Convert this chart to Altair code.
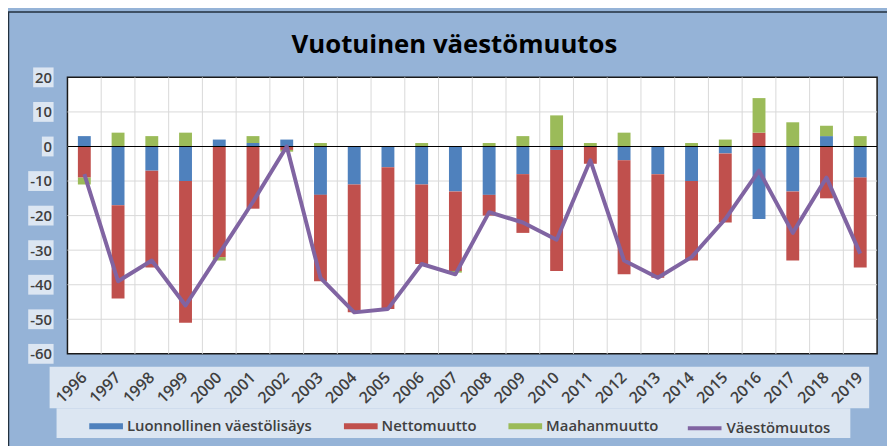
import altair as alt
import pandas as pd

years = list(range(1996, 2020))
luonnollinen = [3, -17, -7, -10, 2, 1, 2, -14, -11, -6, -11, -13, -14, -8, -1, 0, -4, -8, -10, -2, -21, -13, 3, -9]
nettomuutto = [-9, -27, -28, -41, -32, -18, -1, -25, -37, -41, -23, -23, -6, -17, -35, -5, -33, -30, -23, -20, 4, -20, -15, -26]
maahanmuutto = [-2, 4, 3, 4, -1, 2, -0.5, 1, 0, 0, 1, -0.5, 1, 3, 9, 1, 4, 0, 1, 2, 10, 7, 3, 3]
vaestomuutos = [-8, -39, -33, -46, -31, -16, 0, -38, -48, -47, -34, -37, -19, -22, -27, -4, -33, -38, -32, -21, -7, -25, -9, -31]
series = ["Luonnollinen väestölisäys", "Nettomuutto", "Maahanmuutto", "Väestömuutos"]
colors = ["#4F81BD", "#C0504D", "#9BBB59", "#8064A2"]
y_ticks = [-60, -50, -40, -30, -20, -10, 0, 10, 20]
title_text = "Vuotuinen väestömuutos"

W, H = 817, 279
FONT = "Open Sans"
LABEL = "#404040"
LIGHT = "#DCE6F2"
BLUE_BG = "#95B3D7"
GRID = "#D9D9D9"
WEIGHT = 600

rows = []
for i, y in enumerate(years):
    for k, (name, vals) in enumerate(zip(series[:3], [luonnollinen, nettomuutto, maahanmuutto])):
        rows.append({"year": y, "series": name, "value": vals[i], "k": k})
bars_df = pd.DataFrame(rows)
line_df = pd.DataFrame({"year": years, "v": vaestomuutos, "s": series[3]})
ticks_df = pd.DataFrame({"t": y_ticks})
inner_ticks_df = pd.DataFrame({"t": y_ticks[1:-1]})
zero_df = pd.DataFrame({"t": [0]})
grid_years_df = pd.DataFrame({"year": years[1:]})
one = pd.DataFrame({"a": [0]})

xscale = alt.Scale(domain=years, paddingInner=0, paddingOuter=0)
yscale = alt.Scale(domain=[-60, 20], nice=False)
half = 10 / (H / 80.0)

x_axis = alt.Axis(
    title=None, labelAngle=-45, labelAlign="right", labelBaseline="middle", labelPadding=21, labelOffset=0,
    labelFont=FONT, labelFontSize=16, labelFontWeight=WEIGHT, labelColor=LABEL, ticks=False, tickSize=0,
    domain=False, grid=False, zindex=1, labelOverlap=False)
y_axis = alt.Axis(
    title=None, values=y_ticks, labelExpr="'' + datum.value", labelFont=FONT, labelFontSize=15,
    labelFontWeight=WEIGHT, labelColor=LABEL, labelPadding=16, ticks=False, tickSize=0, domain=False,
    grid=False, zindex=1, labelOverlap=False)

rect_path = "M-1,-0.176H1V0.176H-1Z"

frame = alt.Chart(one).mark_rect(fillOpacity=0, stroke="#22303f", strokeWidth=1.5).encode(
    x=alt.value(-59.5), x2=alt.value(W + 80), y=alt.value(-66), y2=alt.value(H + 140)
)
xbox = alt.Chart(one).mark_rect(color=LIGHT).encode(
    x=alt.value(-18), x2=alt.value(809), y=alt.value(H + 13), y2=alt.value(H + 55)
)
legbox = alt.Chart(one).mark_rect(color=LIGHT).encode(
    x=alt.value(-11), x2=alt.value(790), y=alt.value(H + 55), y2=alt.value(H + 85)
)
ybox = alt.Chart(ticks_df).transform_calculate(
    lo=f"datum.t - {half}",
    hi=f"datum.t + {half}",
    xl="-17 - 8.8*length(toString(abs(datum.t))) - (datum.t < 0 ? 5 : 0)",
).mark_rect(color=LIGHT).encode(
    y=alt.Y("lo:Q", scale=yscale, axis=y_axis),
    y2="hi:Q",
    x=alt.X("xl:Q", scale=None),
    x2=alt.value(-14),
)
ygrid = alt.Chart(inner_ticks_df).mark_rule(color=GRID, strokeWidth=1).encode(
    y=alt.Y("t:Q", scale=yscale, axis=y_axis)
)
xgrid = alt.Chart(grid_years_df).mark_rule(color=GRID, strokeWidth=1).encode(
    x=alt.X("year:O", scale=xscale, bandPosition=0, axis=x_axis)
)

bar_legend = alt.Legend(
    title=None, orient="none", legendX=22, legendY=335, direction="horizontal",
    symbolType=rect_path, symbolSize=1156, symbolStrokeWidth=0,
    labelFont=FONT, labelFontSize=15, labelFontWeight=WEIGHT, labelColor=LABEL, labelOffset=4,
    labelLimit=400, columnPadding=32, padding=0,
)
line_legend = alt.Legend(
    title=None, orient="none", legendX=624, legendY=335, direction="horizontal",
    symbolType="stroke", symbolSize=1156, symbolStrokeWidth=4, labelLimit=400,
    labelFont=FONT, labelFontSize=15, labelFontWeight=WEIGHT, labelColor=LABEL, labelOffset=3, padding=0,
)

bars = alt.Chart(bars_df).mark_bar(size=13).encode(
    x=alt.X("year:O", scale=xscale, axis=x_axis),
    y=alt.Y("value:Q", stack="zero", scale=yscale, axis=y_axis),
    color=alt.Color("series:N", scale=alt.Scale(domain=series[:3], range=colors[:3]), legend=bar_legend),
    order=alt.Order("k:Q"),
)
zero = alt.Chart(zero_df).mark_rule(color="black", strokeWidth=1.2).encode(
    y=alt.Y("t:Q", scale=yscale, axis=y_axis)
)
line = alt.Chart(line_df).mark_line(strokeWidth=4, strokeJoin="round").encode(
    x=alt.X("year:O", scale=xscale, axis=x_axis),
    y=alt.Y("v:Q", scale=yscale, axis=y_axis),
    stroke=alt.Stroke("s:N", scale=alt.Scale(domain=[series[3]], range=[colors[3]]), legend=line_legend),
)

chart = alt.layer(frame, xbox, legbox, ybox, ygrid, xgrid, bars, zero, line).properties(
    width=W, height=H,
    padding={"left": 60, "top": 68, "right": 10, "bottom": 91},
    autosize=alt.AutoSizeParams(type="none"),
    background=BLUE_BG,
    title=alt.TitleParams(title_text, font=FONT, fontSize=26, fontWeight="bold", color="black",
                          anchor="middle", frame="group", dx=-18, offset=-47),
).configure_view(fill="white", stroke="#1a1a1a", strokeWidth=1.5).configure_axisY(
    labelOverlap=False, tickCount=9
)

chart.save("out.html", embed_options={"renderer": "svg", "actions": False})
